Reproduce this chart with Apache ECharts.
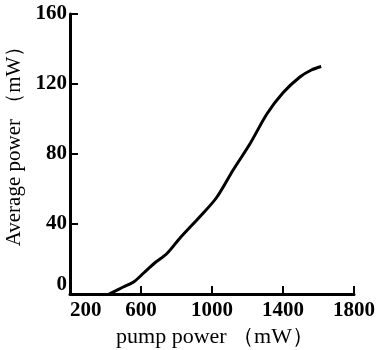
<!DOCTYPE html>
<html>
<head>
<meta charset="utf-8">
<script src="https://cdn.jsdelivr.net/npm/echarts@6/dist/echarts.min.js"></script>
<style>
  html, body { margin: 0; padding: 0; background: #fff; }
  #chart { width: 377px; height: 350px; }
</style>
</head>
<body>
<div id="chart"></div>
<script>
// pump power (mW) vs average output power (mW)
var pumpPower = [420, 500, 560, 615, 680, 745, 820, 930, 1025, 1120, 1215, 1310, 1400, 1495, 1560, 1615];
var avgPower = [0, 4, 7, 12, 18, 23, 32, 44, 55, 71, 86, 103, 115, 124, 128, 130];
var xTicks = [200, 600, 1000, 1400, 1800];
var yTicks = [0, 40, 80, 120, 160];

var font = 'Liberation Serif';
var labelStyle = { fontFamily: font, fontSize: 21, fontWeight: 'bold', color: '#000' };
var myChart = echarts.init(document.getElementById('chart'));
myChart.setOption({
    animation: false,
    textStyle: { fontFamily: font, color: '#000' },
    grid: { left: 70, right: 23, top: 14, bottom: 56, containLabel: false, outerBoundsMode: 'none' },
    xAxis: {
        type: 'value',
        min: 200,
        max: 1800,
        name: 'pump power （mW）',
        nameLocation: 'middle',
        nameGap: 31,
        nameTextStyle: { fontFamily: font, fontSize: 22, color: '#000', padding: [0, 0, 0, 6] },
        axisLine: { lineStyle: { color: '#000', width: 3 } },
        axisTick: { inside: true, length: 8, customValues: xTicks, lineStyle: { width: 2, color: '#000' } },
        axisLabel: Object.assign({
            customValues: xTicks, margin: 6,
            alignMinLabel: 'left',
            formatter: function (v) { return String(v); }
        }, labelStyle),
        splitLine: { show: false }
    },
    yAxis: {
        type: 'value',
        min: 0,
        max: 160,
        interval: 40,
        name: 'Average power （mW）',
        nameLocation: 'middle',
        nameGap: 41,
        nameTextStyle: { fontFamily: font, fontSize: 21, color: '#000', padding: [0, 0, 0, 26] },
        axisLine: { show: true, lineStyle: { color: '#000', width: 3 } },
        axisTick: { show: true, inside: true, length: 8, lineStyle: { width: 2, color: '#000' } },
        axisLabel: Object.assign({
            margin: 3,
            formatter: function (v) {
                if (yTicks.indexOf(v) < 0) return '';
                // the zero label sits just above the x axis in the original
                return v === 0 ? '{z|0}' : String(v);
            },
            rich: { z: Object.assign({ padding: [0, 0, 18, 0] }, labelStyle) }
        }, labelStyle),
        splitLine: { show: false }
    },
    series: [{
        type: 'line',
        data: pumpPower.map(function (x, i) { return [x, avgPower[i]]; }),
        smooth: 0.3,
        symbol: 'none',
        lineStyle: { color: '#000', width: 3 }
    }]
});
</script>
</body>
</html>
